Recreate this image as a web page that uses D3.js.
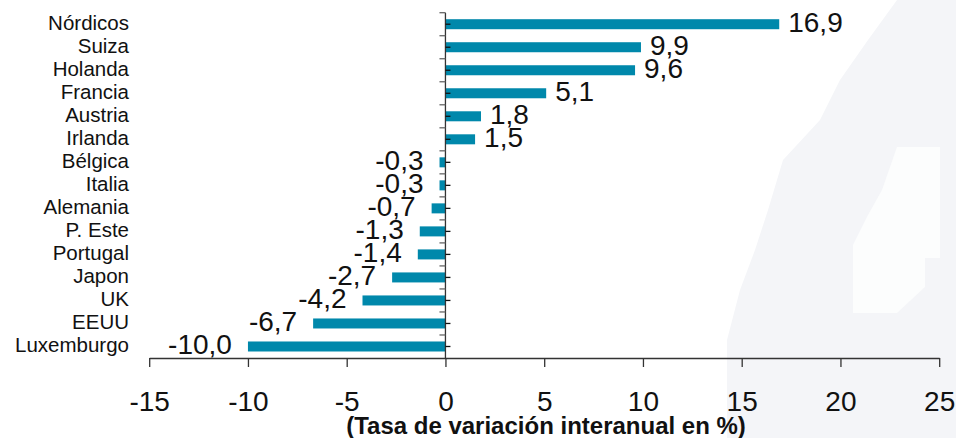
<!DOCTYPE html>
<html>
<head>
<meta charset="utf-8">
<script src="https://cdn.jsdelivr.net/npm/d3@7"></script>
<style>
  body { margin: 0; background: #fff; }
  svg text { font-family: "Liberation Sans", Arial, sans-serif; fill: #111; }
</style>
</head>
<body>
<script>
// datos: tasa de variacion interanual (%)
var paises = ["Nórdicos", "Suiza", "Holanda", "Francia", "Austria", "Irlanda", "Bélgica",
              "Italia", "Alemania", "P. Este", "Portugal", "Japon", "UK", "EEUU", "Luxemburgo"];
var valores = [16.9, 9.9, 9.6, 5.1, 1.8, 1.5, -0.3, -0.3, -0.7, -1.3, -1.4, -2.7, -4.2, -6.7, -10.0];
var ejeTicks = [-15, -10, -5, 0, 5, 10, 15, 20, 25];
var tituloEje = "(Tasa de variación interanual en %)";

var w = 956;
var h = 438;
var svg = d3.select("body")
            .append("svg")
            .attr("width", w)
            .attr("height", h);

// marca de agua gris muy clara a la derecha
svg.append("path")
   .attr("d", "M897,0 L956,0 L956,438 L727,438 L727,340 L740,290 L755,250 L768,210 L783,160 L820,120 L840,80 L868,40 Z")
   .attr("fill", "#f4f5f8");
svg.append("path")
   .attr("d", "M897,147 L940,147 L940,258 L925,258 L925,287 L897,313 L853,313 L853,245 L868,215 L882,190 Z")
   .attr("fill", "#fcfdfd");

var x = d3.scaleLinear()
          .domain([-15, 25])
          .range([149.2, 939.2]);

var pi = 0.565;
var y = d3.scaleBand()
          .domain(paises)
          .range([12.7, 358])
          .paddingInner(pi)
          .paddingOuter(pi / 2);

var data = paises.map(function(p, i) {
    return { pais: p, valor: valores[i] };
});

var fmt = function(v) {
    return d3.format(".1f")(v).replace(".", ",").replace("−", "-");
};

// barras
svg.selectAll("rect.bar")
   .data(data)
   .enter()
   .append("rect")
   .attr("class", "bar")
   .attr("x", function(d) { return x(Math.min(0, d.valor)); })
   .attr("y", function(d) { return y(d.pais); })
   .attr("width", function(d) { return Math.abs(x(d.valor) - x(0)); })
   .attr("height", y.bandwidth())
   .attr("fill", "#0088ab");

// eje x
var xAxis = svg.append("g")
   .attr("transform", "translate(0," + 358 + ")")
   .call(d3.axisBottom(x)
           .tickValues(ejeTicks)
           .tickSize(9)
           .tickSizeOuter(0)
           .tickPadding(24)
           .tickFormat(function(d) { return String(d); }));
xAxis.select(".domain").attr("stroke", "#333").attr("stroke-width", 1.3);
xAxis.selectAll(".tick line").attr("stroke", "#333").attr("stroke-width", 1.3);
xAxis.selectAll(".tick text")
     .attr("fill", "#111")
     .style("font-size", "28px")
     .style("font-family", "'Liberation Sans', Arial, sans-serif");

// eje y (categorias)
var x0 = x(0);
svg.append("line")
   .attr("x1", x0).attr("x2", x0)
   .attr("y1", 12.7).attr("y2", 358)
   .attr("stroke", "#333")
   .attr("stroke-width", 1.3);

var bordes = paises.map(function(p) {
    return y(p) + y.bandwidth() / 2 - y.step() / 2;
});
svg.selectAll("line.borde")
   .data(bordes)
   .enter()
   .append("line")
   .attr("class", "borde")
   .attr("x1", x0 - 6).attr("x2", x0)
   .attr("y1", function(d) { return d; })
   .attr("y2", function(d) { return d; })
   .attr("stroke", "#666")
   .attr("stroke-width", 1.3);

svg.selectAll("line.centro")
   .data(paises)
   .enter()
   .append("line")
   .attr("class", "centro")
   .attr("x1", x0).attr("x2", x0 + 5)
   .attr("y1", function(d) { return y(d) + y.bandwidth() / 2; })
   .attr("y2", function(d) { return y(d) + y.bandwidth() / 2; })
   .attr("stroke", "#111")
   .attr("stroke-width", 1.3);

// nombres de paises
svg.selectAll("text.pais")
   .data(paises)
   .enter()
   .append("text")
   .attr("class", "pais")
   .attr("x", 129)
   .attr("y", function(d) { return y(d) + y.bandwidth() / 2 + 5.5; })
   .attr("text-anchor", "end")
   .style("font-size", "20.5px")
   .text(function(d) { return d; });

// etiquetas de valor
svg.selectAll("text.valor")
   .data(data)
   .enter()
   .append("text")
   .attr("class", "valor")
   .attr("x", function(d) {
       return d.valor >= 0 ? x(d.valor) + 9 : x(d.valor) - 16;
   })
   .attr("y", function(d) { return y(d.pais) + y.bandwidth() / 2 + 7.5; })
   .attr("text-anchor", function(d) { return d.valor >= 0 ? "start" : "end"; })
   .style("font-size", "28px")
   .text(function(d) { return fmt(d.valor); });

// titulo del eje
svg.append("text")
   .attr("x", 546)
   .attr("y", 434)
   .attr("text-anchor", "middle")
   .style("font-size", "24px")
   .style("font-weight", "bold")
   .text(tituloEje);
</script>
</body>
</html>
